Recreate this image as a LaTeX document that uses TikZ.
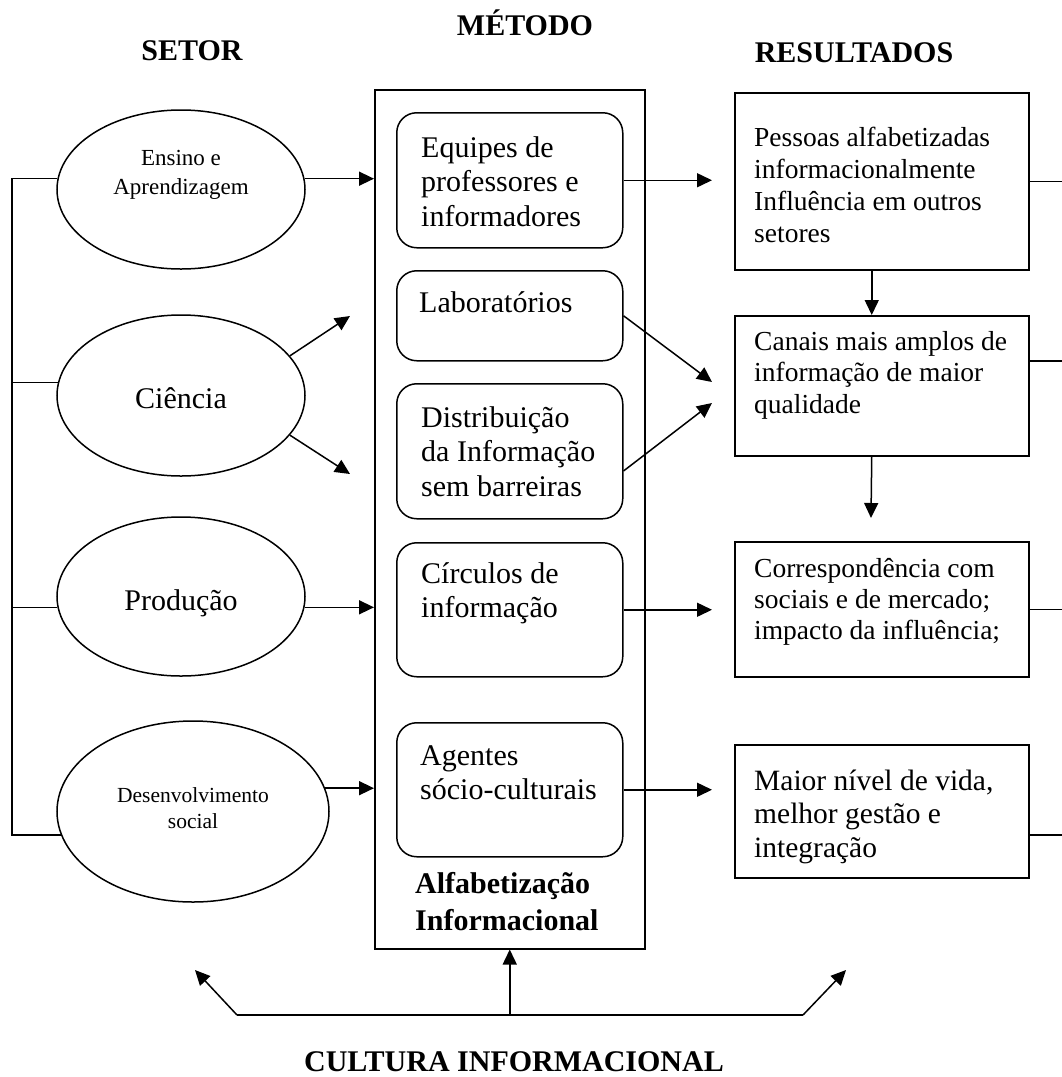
\documentclass[tikz,border=0pt]{standalone}
\usepackage{fontspec}
\setmainfont{Liberation Serif}
\usetikzlibrary{arrows.meta,shapes.geometric,calc}

% font size with explicit line spacing
\newcommand\setfs[2]{\fontsize{#1}{#2}\selectfont}
% left-aligned block of lines, first line on the node's baseline
\newcommand\leftlines[2]{\parbox[t]{#1}{\raggedright #2}}
\newcommand\midlines[2]{\parbox[t]{#1}{\centering #2}}

\tikzset{
  line/.style={line width=1.5pt},
  arr/.style={line, -{Triangle[length=15pt,width=14pt]}},
  hdr/.style={font=\bfseries\setfs{30}{36}, inner sep=0pt, anchor=base},
  txt/.style={inner sep=0pt, anchor=base west},
  ctxt/.style={inner sep=0pt, anchor=base},
  sector/.style={draw, ellipse, line, inner sep=0pt},
  methodbox/.style={draw, line, rounded corners=20pt, inner sep=0pt,
    anchor=north west, minimum width=226pt},
  resultbox/.style={draw, line, inner sep=0pt, anchor=north west,
    minimum width=294pt},
}

\begin{document}
\begin{tikzpicture}[x=1pt,y=-1pt]
\useasboundingbox (0,0) rectangle (1062,1077);

% column headings
\node[hdr] (setor) at (192,60) {SETOR};
\node[hdr] (metodo) at (525,35) {MÉTODO};
\node[hdr] (resultados) at (854,62) {RESULTADOS};
\node[hdr] (cultura) at (514,1071) {CULTURA INFORMACIONAL};

% sectors
\node[sector, minimum width=248pt, minimum height=159pt] (e1) at (181,189.5) {};
\node[sector, minimum width=248pt, minimum height=161pt] (e2) at (181,395.5) {};
\node[sector, minimum width=248pt, minimum height=159pt] (e3) at (181,596.5) {};
\node[sector, minimum width=272pt, minimum height=181pt] (e4) at (193,811.5) {};

\node[ctxt] (e1t) at (181,165) {\midlines{220pt}{\setfs{23}{29}Ensino e\\Aprendizagem}};
\node[ctxt, font=\setfs{30}{34}] (e2t) at (181,408) {Ciência};
\node[ctxt, font=\setfs{30}{34}] (e3t) at (181,610) {Produção};
\node[ctxt] (e4t) at (193,802) {\midlines{240pt}{\setfs{21.5}{26}Desenvolvimento\\social}};

% method frame and its steps
\node[draw, line, inner sep=0pt, anchor=north west, minimum width=270pt,
      minimum height=859pt] (big) at (374,89) {};

\node[methodbox, minimum height=135pt] (eq) at (396,112) {};
\node[methodbox, minimum height=90pt]  (lab) at (396,270) {};
\node[methodbox, minimum height=135pt] (dist) at (396,383) {};
\node[methodbox, minimum height=134pt] (circ) at (396,542) {};
\node[methodbox, minimum height=134pt] (ag) at (396,722) {};

\node[txt] (eqt) at (421,157) {\leftlines{195pt}{\setfs{30}{34.5}Equipes de\\professores e\\informadores}};
\node[txt, font=\setfs{30}{34.5}] (labt) at (419,312) {Laboratórios};
\node[txt] (distt) at (421,427) {\leftlines{195pt}{\setfs{30}{34.5}Distribuição\\da Informação\\sem barreiras}};
\node[txt] (circt) at (421,583) {\leftlines{195pt}{\setfs{30}{34.5}Círculos de\\informação}};
\node[txt] (agt) at (420,765) {\leftlines{195pt}{\setfs{30}{34.5}Agentes\\sócio-culturais}};
\node[txt] (alf) at (415,893) {\leftlines{220pt}{\bfseries\setfs{30}{37}Alfabetização\\Informacional}};

% results
\node[resultbox, minimum height=177pt] (r1) at (734,92) {};
\node[resultbox, minimum height=140pt] (r2) at (734,315) {};
\node[resultbox, minimum height=135pt] (r3) at (734,541) {};
\node[resultbox, minimum height=133pt] (r4) at (734,744) {};

\node[txt] (r1t) at (754,146) {\leftlines{270pt}{\setfs{27.5}{32}Pessoas alfabetizadas\\informacionalmente\\Influência em outros\\setores}};
\node[txt] (r2t) at (754,350) {\leftlines{270pt}{\setfs{27.5}{31.5}Canais mais amplos de\\informação de maior\\qualidade}};
\node[txt] (r3t) at (754,577) {\leftlines{270pt}{\setfs{27.5}{31}Correspondência com\\sociais e de mercado;\\impacto da influência;}};
\node[txt] (r4t) at (754,790) {\leftlines{270pt}{\setfs{29.5}{33.5}Maior nível de vida,\\melhor gestão e\\integração}};

% sector bracket on the left
\coordinate (spine) at (12,0);
\draw[line] (e1.175) -- (e1.175 -| spine) -- (e4.190 -| spine) -- (e4.190);
\draw[line] (e2.174) -- (e2.174 -| spine);
\draw[line] (e3.185) -- (e3.185 -| spine);

% sectors into the method
\draw[arr] (e1.5) -- (e1.5 -| big.west);
\draw[arr] (e3.355) -- (e3.355 -| big.west);
\draw[arr] (e4.10) -- (e4.10 -| big.west);
\coordinate (cup) at (350,316);
\coordinate (cdown) at (350,474);
\draw[arr] (e2.20) -- (cup);
\draw[arr] (e2.340) -- (cdown);

% method into results
\coordinate (rin) at (712,0);
\draw[arr] (eq.east) -- (eq.east -| rin);
\draw[arr] (circ.east) -- (circ.east -| rin);
\draw[arr] (ag.east) -- (ag.east -| rin);
\coordinate (labend) at (712,382);
\coordinate (distend) at (712,403);
\draw[arr] (lab.east) -- (labend);
\draw[arr] (dist.east |- 0,471) -- (distend);

% chain of results
\draw[arr] ([xshift=-10pt]r1.south) -- ([xshift=-10pt]r1.south |- r2.north);
\coordinate (r2end) at (871,518);
\draw[arr] ([xshift=-10pt]r2.south) -- (r2end);

% lines leaving the results to the right
\coordinate (edge) at (1064,0);
\draw[line] (r1.east) -- (r1.east -| edge);
\draw[line] ([yshift=25pt]r2.east) -- ([yshift=25pt]r2.east -| edge);
\draw[line] (r3.east) -- (r3.east -| edge);
\draw[line] ([yshift=-23.5pt]r4.east) -- ([yshift=-23.5pt]r4.east -| edge);

% information culture feeding everything
\coordinate (cl) at (237,1015);
\coordinate (cr) at (803,1015);
\coordinate (tl) at (195,970);
\coordinate (tr) at (846,970);
\draw[line] (cl) -- (cr);
\draw[arr] (cl) -- (tl);
\draw[arr] (cr) -- (tr);
\draw[arr] (big.south |- cl) -- (big.south);
\end{tikzpicture}
\end{document}
